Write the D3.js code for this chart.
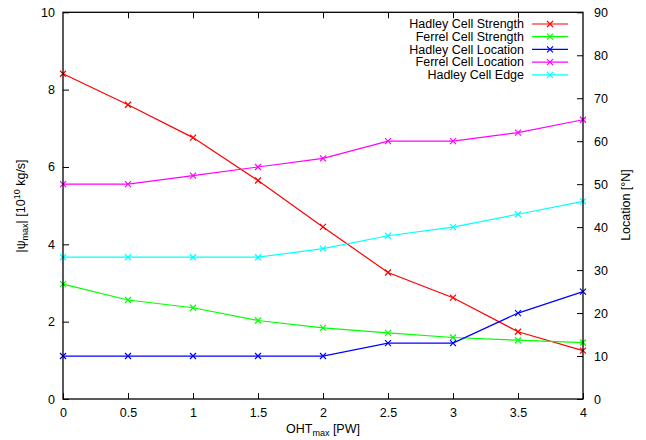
<!DOCTYPE html>
<html><head><meta charset="utf-8">
<script src="https://cdn.jsdelivr.net/npm/d3@7"></script>
<style>body{margin:0;background:#fff}svg{display:block}text{font-family:"Liberation Sans",Arial,sans-serif;font-size:12.5px;fill:#000}</style>
</head><body><svg id="c" width="646" height="440"></svg>
<script>
const oht = [0, 0.5, 1, 1.5, 2, 2.5, 3, 3.5, 4];
const hadleyStrength = [8.41, 7.61, 6.76, 5.65, 4.45, 3.27, 2.62, 1.74, 1.25];
const ferrelStrength = [2.97, 2.56, 2.36, 2.03, 1.84, 1.71, 1.59, 1.52, 1.46];
const hadleyLocation = [10, 10, 10, 10, 10, 13, 13, 20, 25];
const ferrelLocation = [50, 50, 52, 54, 56, 60, 60, 62, 65];
const hadleyEdge = [33, 33, 33, 33, 35, 38, 40, 43, 46];
const xTicks = [0, 0.5, 1, 1.5, 2, 2.5, 3, 3.5, 4];
const yTicks = [0, 2, 4, 6, 8, 10];
const y2Ticks = [0, 10, 20, 30, 40, 50, 60, 70, 80, 90];

const series = [
  {name: "Hadley Cell Strength", values: hadleyStrength, axis: "y", color: "#ff0000"},
  {name: "Ferrel Cell Strength", values: ferrelStrength, axis: "y", color: "#00ff00"},
  {name: "Hadley Cell Location", values: hadleyLocation, axis: "y2", color: "#0000ff"},
  {name: "Ferrel Cell Location", values: ferrelLocation, axis: "y2", color: "#ff00ff"},
  {name: "Hadley Cell Edge", values: hadleyEdge, axis: "y2", color: "#00ffff"}
];

const L = 63, R = 583, T = 12.3, B = 399;
const svg = d3.select("#c");
const x = d3.scaleLinear().domain([0, 4]).range([L, R]);
const y = d3.scaleLinear().domain([0, 10]).range([B, T]);
const y2 = d3.scaleLinear().domain([0, 90]).range([B, T]);

function styleAxis(g){
  g.select(".domain").remove();
  g.selectAll("line").attr("stroke", "#000").attr("stroke-width", 1);
  g.selectAll("text").style("font-size", "12.5px").style("font-family", '"Liberation Sans",Arial,sans-serif');
}
// bottom
svg.append("g").attr("transform", `translate(0,${B})`)
  .call(d3.axisBottom(x).tickValues(xTicks).tickFormat(d3.format("")).tickSize(-6).tickPadding(9))
  .call(styleAxis);
// top (mirror ticks)
svg.append("g").attr("transform", `translate(0,${T})`)
  .call(d3.axisTop(x).tickValues(xTicks.slice(1, -1)).tickFormat("").tickSize(-6))
  .call(styleAxis);
// left
svg.append("g").attr("transform", `translate(${L},0)`)
  .call(d3.axisLeft(y).tickValues(yTicks).tickFormat(d3.format("")).tickSize(-6).tickPadding(8))
  .call(styleAxis);
// right
svg.append("g").attr("transform", `translate(${R},0)`)
  .call(d3.axisRight(y2).tickValues(y2Ticks).tickFormat(d3.format("")).tickSize(-6).tickPadding(11))
  .call(styleAxis);

// series
series.forEach(s => {
  const sc = s.axis === "y" ? y : y2;
  const line = d3.line().x((d, i) => x(oht[i])).y(d => sc(d));
  svg.append("path").datum(s.values).attr("d", line)
    .attr("fill", "none").attr("stroke", s.color).attr("stroke-width", 1.2);
  const g = svg.append("g");
  s.values.forEach((v, i) => {
    const cx = x(oht[i]), cy = sc(v);
    g.append("path").attr("d", `M${cx-3},${cy-3}L${cx+3},${cy+3}M${cx-3},${cy+3}L${cx+3},${cy-3}`)
      .attr("stroke", s.color).attr("stroke-width", 1.2);
  });
});

// frame
svg.append("rect").attr("x", L).attr("y", T).attr("width", R - L).attr("height", B - T)
  .attr("fill", "none").attr("stroke", "#000").attr("stroke-width", 1.3);

// legend
series.forEach((s, i) => {
  const ly = 24 + i * 12.7;
  svg.append("text").attr("x", 524).attr("y", ly).attr("dy", "0.35em").attr("text-anchor", "end")
    .text(s.name);
  svg.append("line").attr("x1", 532).attr("x2", 568).attr("y1", ly).attr("y2", ly)
    .attr("stroke", s.color).attr("stroke-width", 1.2);
  svg.append("path").attr("d", `M547,${ly-3}L553,${ly+3}M547,${ly+3}L553,${ly-3}`)
    .attr("stroke", s.color).attr("stroke-width", 1.2);
});

// axis labels
const xl = svg.append("text").attr("x", 323).attr("y", 432.5).attr("text-anchor", "middle");
xl.append("tspan").text("OHT");
xl.append("tspan").attr("dy", 3).style("font-size", "9px").text("max");
xl.append("tspan").attr("dy", -3).text(" [PW]");

const yl = svg.append("text").attr("transform", "translate(25,206) rotate(-90)").attr("text-anchor", "middle");
yl.append("tspan").text("|ψ");
yl.append("tspan").attr("dy", 3).style("font-size", "9px").text("max");
yl.append("tspan").attr("dy", -3).text("| [10");
yl.append("tspan").attr("dy", -5).style("font-size", "9px").text("10");
yl.append("tspan").attr("dy", 5).text(" kg/s]");

svg.append("text").attr("transform", "translate(630,205) rotate(-90)").attr("text-anchor", "middle")
  .text("Location [°N]");
</script></body></html>
